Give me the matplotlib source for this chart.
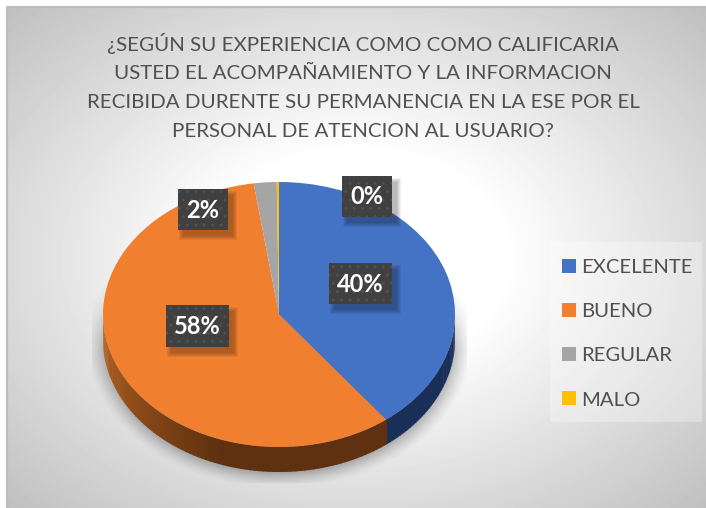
import numpy as np
import matplotlib.pyplot as plt
from matplotlib.colors import to_rgb
from matplotlib.patches import Rectangle
from matplotlib.lines import Line2D

categories = ["EXCELENTE", "BUENO", "REGULAR", "MALO"]
values = [39.6, 58.1, 2.1, 0.2]
title_lines = [
    "¿SEGÚN SU EXPERIENCIA COMO COMO CALIFICARIA",
    "USTED EL ACOMPAÑAMIENTO Y LA INFORMACION",
    "RECIBIDA DURENTE SU PERMANENCIA EN LA ESE POR EL",
    "PERSONAL DE ATENCION AL USUARIO?",
]

colors = ["#4472C4", "#F07F2F", "#A5A5A5", "#FFC000"]
wall_dark = ["#1A2F57", "#5F3110", "#5A5A5A", "#7F6000"]
wall_light = ["#1A2F57", "#BC6522", "#5A5A5A", "#7F6000"]

W, H = 706, 508
plt.rcParams['font.family'] = ['Lato', 'DejaVu Sans']

fig = plt.figure(figsize=(W / 100, H / 100), dpi=100, facecolor="white")

# background in pixel coordinates
bg = fig.add_axes([0, 0, 1, 1], zorder=0)
bg.axis("off")

yy, xx = np.mgrid[7:H, 7:W]
d = np.sqrt(((xx - 356) / 350) ** 2 + ((yy - 258) / 251) ** 2) / np.sqrt(2)
g = 1 - 0.25 * np.clip((d - 0.3) / 0.7, 0, 1)
bg.imshow(g, cmap="gray", vmin=0, vmax=1, extent=(7, W, H, 7), aspect="auto",
          interpolation="bilinear", zorder=0)
bg.plot([7, 7, W], [H, 7, 7], color="#BDBDBD", lw=1.6, zorder=1)

# pie shadow, cut off by a box like the original
yy, xx = np.mgrid[0:H, 0:W]
r = np.sqrt(((xx - 279) / 195) ** 2 + ((yy - 338) / 150) ** 2)
a = 0.4 * np.clip((1.0 - r) / 0.14, 0, 1) ** 1.4
a = a * np.clip((yy - 282) / 70, 0, 1)
a[(xx < 92) | (xx > 466) | (yy > 482)] = 0
shadow = np.zeros((H, W, 4))
shadow[..., 3] = a
bg.imshow(shadow, extent=(0, W, H, 0), aspect="auto", zorder=2)
bg.set_xlim(0, W)
bg.set_ylim(H, 0)

# pie
pie_ax = fig.add_axes([103 / W, (H - 447) / H, 352 / W, 265 / H], zorder=1)
wedges, _ = pie_ax.pie(values, colors=colors, startangle=90, counterclock=False,
                       radius=1, center=(0, 0))
pie_ax.set_aspect("auto")
pie_ax.set_xlim(-1, 1)
pie_ax.set_ylim(-1, 1)
pie_ax.axis("off")
for w in wedges:
    w.set_clip_on(False)
    w.set_zorder(3)

depth = 25 / 132.5
for w, dark, light in zip(wedges, wall_dark, wall_light):
    t1, t2 = w.theta1 % 360, w.theta2 % 360
    if t2 <= t1:
        t2 += 360
    edges = np.arange(t1, t2 + 1.5, 1.5)
    edges[-1] = min(edges[-1], t2)
    c_dark = np.array(to_rgb(dark))
    c_light = np.array(to_rgb(light))
    for p, q in zip(edges[:-1], edges[1:]):
        if not np.sin(np.radians((p + q) / 2)) < 0:
            continue
        ang = np.radians(np.linspace(p, q + 0.4, 4))
        xs = np.cos(ang)
        ys = np.sin(ang)
        f = np.clip((250 - (p % 360)) / 70, 0, 1)
        col = c_dark + (c_light - c_dark) * f
        pie_ax.fill(np.r_[xs, xs[::-1]], np.r_[ys, ys[::-1] - depth], color=col,
                    lw=0, clip_on=False, zorder=2)

# overlay for labels, title and legend
top = fig.add_axes([0, 0, 1, 1], zorder=2)
top.set_xlim(0, W)
top.set_ylim(H, 0)
top.axis("off")

for i, line in enumerate(title_lines):
    top.text(363, 44 + i * 29.3, line, ha="center", va="center", fontsize=14.75, color="#505050")

label_boxes = [(329, 263, 63, 41), (166, 305, 63, 42), (178, 189, 50, 41), (342, 176, 50, 41)]
for v, (x, y, bw, bh) in zip(values, label_boxes):
    for k in range(1, 6):
        top.add_patch(Rectangle((x + 4 - k + 2, y + 5 - k + 2), bw + 2 * k - 2, bh + 2 * k - 2,
                                facecolor="black", edgecolor="none", alpha=0.06, zorder=3))
    top.add_patch(Rectangle((x, y), bw, bh, facecolor="#404040", edgecolor="#505050",
                            hatch="..", lw=0, zorder=4))
    top.text(x + bw / 2, y + bh / 2 + 0.5, f"{round(v)}%", ha="center", va="center", color="white",
             fontsize=17, fontweight="bold", zorder=5)

# legend, its pale box is a separate patch so the rows can sit freely
top.add_patch(Rectangle((550, 242), 152, 180, facecolor="white", edgecolor="none", alpha=0.3, zorder=2))
handles = [Line2D([], [], marker="s", ls="none", ms=10.1, color=c, mew=0) for c in colors]
leg = top.legend(handles, categories, loc="upper left", bbox_to_anchor=(550, 246),
                 bbox_transform=top.transData, frameon=False, fontsize=14.6, labelcolor="#505050",
                 borderpad=0.62, labelspacing=1.335, handletextpad=0.27, handlelength=0.64,
                 borderaxespad=0)
leg.set_zorder(3)

fig.savefig("out.png", dpi=100)
